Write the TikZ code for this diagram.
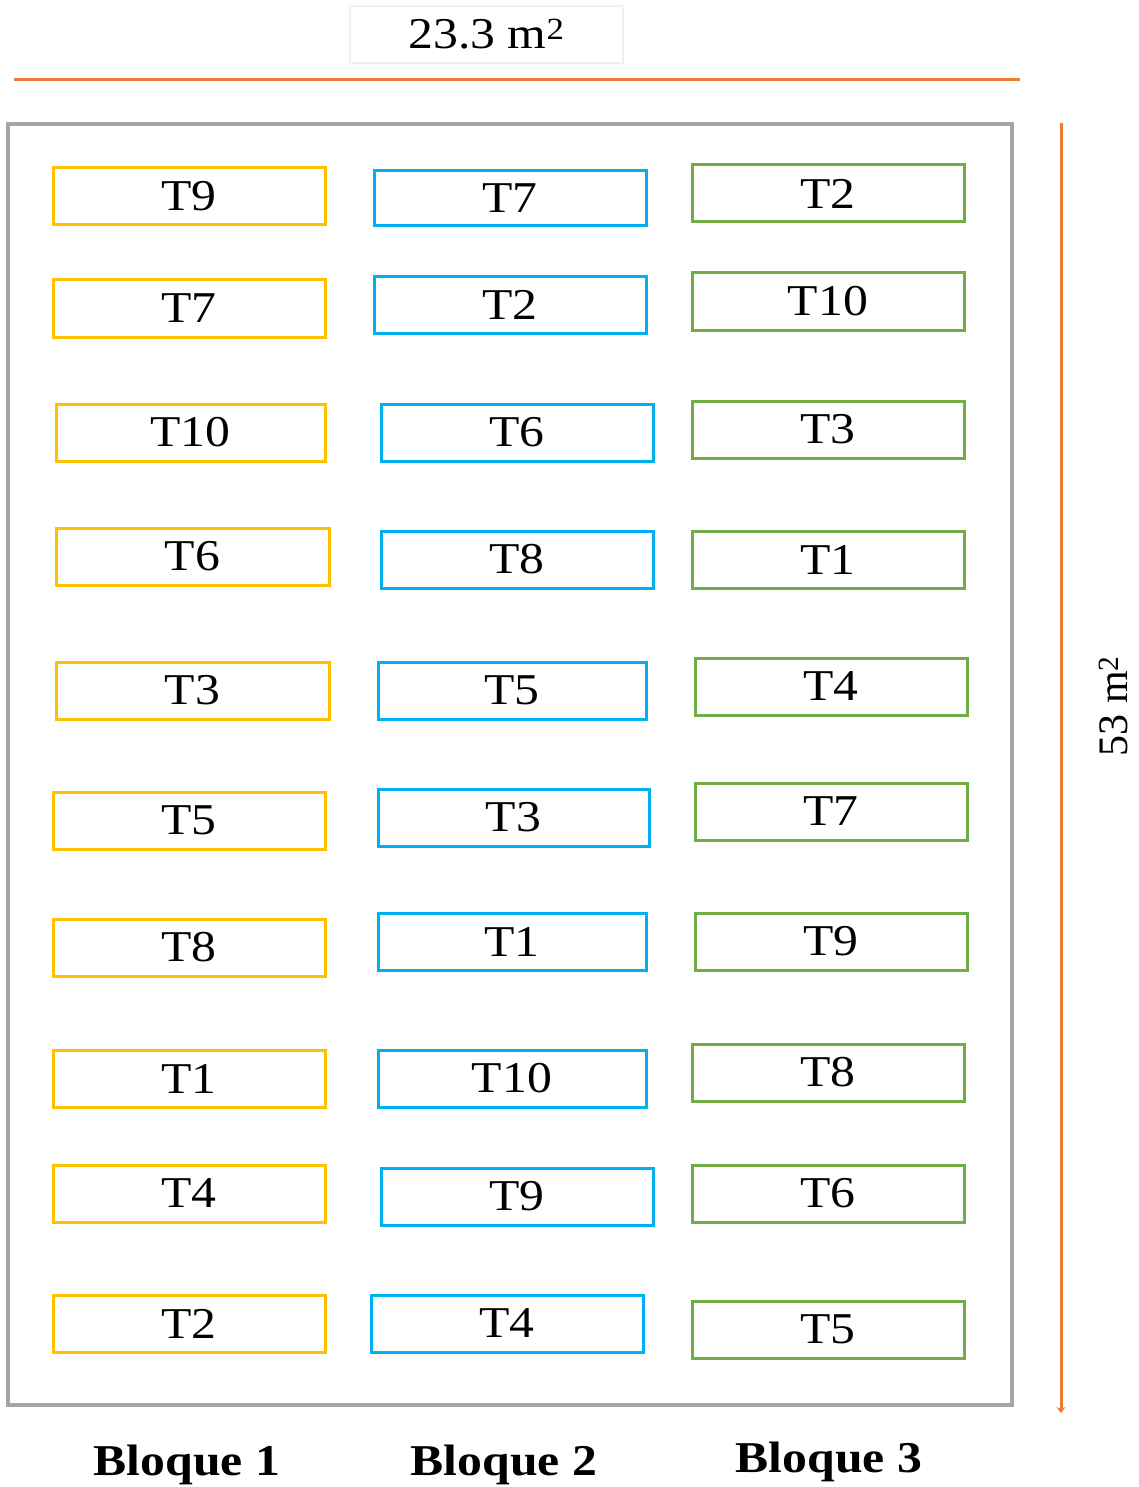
\documentclass[tikz,border=0pt]{standalone}
\usepackage{fontspec}
\setmainfont{Liberation Serif}[FakeStretch=1.13]
\newfontfamily\plainserif{Liberation Serif}
\usetikzlibrary{arrows.meta}
\definecolor{yel}{HTML}{FFC000}
\definecolor{blu}{HTML}{00B0F0}
\definecolor{grn}{HTML}{70AD47}
\definecolor{org}{HTML}{ED7D31}
\definecolor{frame}{HTML}{A5A5A5}
\definecolor{lbl}{HTML}{F0F0F0}
\tikzset{
  plot/.style={draw, line width=3pt, minimum width=272pt, minimum height=57pt, inner sep=0pt,
    font=\fontsize{44}{44}\selectfont},
  yb/.style={plot, draw=yel},
  bb/.style={plot, draw=blu},
  gb/.style={plot, draw=grn},
  dim/.style={draw=org, line width=3pt},
  blq/.style={font=\fontsize{44}{44}\selectfont\bfseries, inner sep=0pt},
}
\begin{document}
\begin{tikzpicture}[x=1pt,y=-1pt]
\useasboundingbox (0,0) rectangle (1139,1487);
% label box
\node[draw=lbl, line width=2pt, minimum width=273pt, minimum height=57pt, inner sep=0pt,
  font=\fontsize{44}{44}\selectfont] (wlab) at (486.5,34.5) {23.3 m\textsuperscript{2}};
% dimension lines
\coordinate (hl) at (14,80);
\coordinate (hr) at (1020,80);
\draw[dim] (hl) -- (hr);
\coordinate (vt) at (1061,123);
\coordinate (vb) at (1061,1413);
\draw[dim, -{Stealth[length=6pt,width=9pt]}] (vt) -- (vb);
\node[rotate=90, inner sep=0pt, font=\plainserif\fontsize{42}{42}\selectfont] (hlab) at (1113,706) {53 m\textsuperscript{2}};
% field frame
\node[draw=frame, line width=4pt, minimum width=1004pt, minimum height=1281pt, inner sep=0pt] (field) at (510,764.5) {};
% block 1
\node[yb] (a1) at (189,196.5) {T9};
\node[yb] (a2) at (189,308.5) {T7};
\node[yb, minimum width=269pt] (a3) at (190.5,432.5) {T10};
\node[yb, minimum width=273pt] (a4) at (192.5,556.5) {T6};
\node[yb, minimum width=273pt] (a5) at (192.5,690.5) {T3};
\node[yb] (a6) at (189,820.5) {T5};
\node[yb] (a7) at (189,947.5) {T8};
\node[yb] (a8) at (189,1078.5) {T1};
\node[yb] (a9) at (189,1193.5) {T4};
\node[yb] (a10) at (189,1323.5) {T2};
% block 2
\node[bb, minimum height=55pt] (b1) at (510,198.5) {T7};
\node[bb] (b2) at (510,305) {T2};
\node[bb] (b3) at (517,432.5) {T6};
\node[bb] (b4) at (517,559.5) {T8};
\node[bb, minimum width=268pt] (b5) at (512,690.5) {T5};
\node[bb, minimum width=271pt] (b6) at (513.5,817.5) {T3};
\node[bb, minimum width=268pt] (b7) at (512,941.5) {T1};
\node[bb, minimum width=268pt] (b8) at (512,1078.5) {T10};
\node[bb] (b9) at (517,1196.5) {T9};
\node[bb] (b10) at (507,1323.5) {T4};
% block 3
\node[gb] (c1) at (828,193.5) {T2};
\node[gb] (c2) at (828,301.5) {T10};
\node[gb] (c3) at (828,429.5) {T3};
\node[gb] (c4) at (828,559.5) {T1};
\node[gb] (c5) at (831,686.5) {T4};
\node[gb] (c6) at (831,811.5) {T7};
\node[gb] (c7) at (831,941.5) {T9};
\node[gb] (c8) at (828,1072.5) {T8};
\node[gb] (c9) at (828,1193.5) {T6};
\node[gb] (c10) at (828,1329.5) {T5};
% block labels
\node[blq] (l1) at (187,1465) {Bloque 1};
\node[blq] (l2) at (504,1465) {Bloque 2};
\node[blq] (l3) at (829,1462) {Bloque 3};
\end{tikzpicture}
\end{document}
